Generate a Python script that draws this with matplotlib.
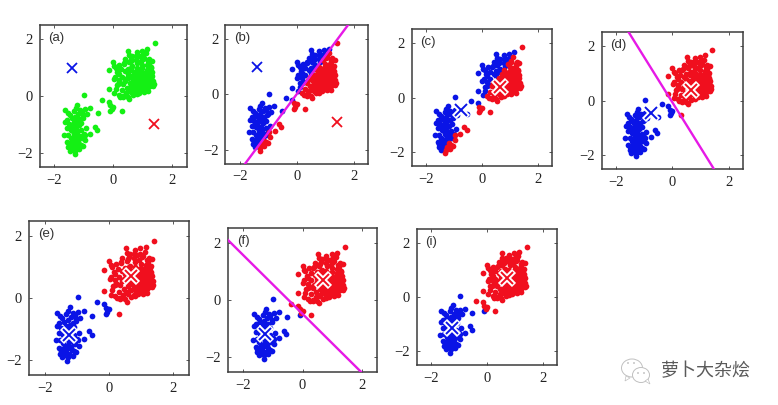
#!/usr/bin/env python3
"""K-means iterations on a two-cluster data set, seven small panels."""

import matplotlib
matplotlib.use('Agg')
import matplotlib.pyplot as plt
from matplotlib.patches import Ellipse, Polygon
import numpy as np

# Points
lower_x = [-0.97, -1.22, -1.27, -0.78, -0.96, -1.33, -1.62, -1.53, -1.07, -0.9, -1.02, -1.12, -1.18, -1.46, -0.52,
           -1.57, -1.63, -1.49, -1.41, -1.33, -1.28, -1.23, -1.14, -1.03, -1.47, -1.44, -1.37, -1.29, -1.17, -1.08,
           -1.26, -1.36, -1.43, -1.56, -1.21, -1.09, -0.99, -0.93, -0.62, -0.54, -0.77, -0.96, -1.67, -1.52, -1.44,
           -1.31, -1.24, -1.13, -1.39, -1.28, -1.19, -1.06, -0.95, -1.56, -1.51, -1.46, -1.34, -1.23, -1.16, -1.52,
           -1.43, -1.36, -1.24, -1.09, -1.02, -1.46, -1.29, -1.14, -1.3, -1.41]
lower_y = [0.02, -0.3, -0.42, -0.43, -0.47, -0.52, -0.5, -0.6, -0.57, -0.64, -0.7, -0.48, -0.62, -0.66, -0.6,
           -0.83, -0.92, -0.97, -0.78, -0.9, -0.73, -0.87, -0.82, -0.76, -1.07, -1.01, -1.13, -0.98, -1.03, -0.96,
           -1.17, -1.22, -1.19, -1.13, -1.28, -1.21, -1.33, -1.14, -1.08, -1.2, -1.33, -1.37, -1.38, -1.36, -1.47,
           -1.33, -1.43, -1.42, -1.57, -1.53, -1.58, -1.48, -1.55, -1.63, -1.72, -1.67, -1.69, -1.62, -1.68, -1.81,
           -1.87, -1.78, -1.83, -1.73, -1.77, -1.92, -1.93, -1.88, -2.05, -1.74]
middle_x = [-0.38, -0.15, -0.1, -0.05, -0.1, 0.0, 0.3]
middle_y = [-0.13, -0.2, -0.33, -0.45, -0.52, -0.37, -0.52]
upper_x = [1.42, 1.15, 0.97, 0.52, 0.55, 0.8, 0.78, 0.62, 1.05, 0.42, 0.0, 0.05, 0.15, -0.15, 0.02,
           -0.15, 0.05, 0.25, 0.35, 0.5, 0.55, 0.2, 0.1, 0.3, 1.35, 1.38, 1.0, 1.34, 1.3, 1.24,
           1.2, 1.03, 0.94, 0.82, 0.65, 1.0, 1.16, 1.26, 0.8, 0.5, 0.42, 0.3, 0.2, 0.4, 0.5,
           0.62, 0.72, 0.84, 0.95, 1.0, 1.14, 1.25, 1.32, 0.5, 0.6, 0.75, 0.83, 0.91, 1.04, 1.13,
           1.21, 1.34, 0.35, 0.58, 0.69, 0.76, 0.88, 0.98, 1.09, 1.16, 1.29, 1.36, 0.46, 0.6, 0.71,
           0.85, 0.93, 1.01, 1.15, 1.23, 1.3, 0.52, 0.65, 0.78, 0.86, 0.99, 1.06, 1.18, 1.26, 0.6,
           0.7, 0.81, 0.94, 1.05, 1.13, 1.2, 0.79, 0.89, 0.96, 1.08, 0.68, 0.8, 0.9, 1.05, 1.2,
           0.45, 0.35, 0.75, 0.85, 1.0, 0.2, 0.25, 0.55, 0.62, 1.12, 0.68, 0.9, 1.28, 0.12, 0.38,
           0.1, 0.22, 0.28, 0.06, 0.36, 0.18, 0.47, 0.6, 1.3, 1.22, 0.88, 0.78, 0.98, 1.12, 0.66]
upper_y = [1.85, 1.65, 1.6, 1.6, 1.45, 1.55, 1.42, 1.32, 1.35, 1.3, 1.18, 1.05, 0.85, 0.9, 0.6,
           0.23, 0.1, -0.02, -0.05, -0.05, -0.12, 0.05, 0.25, 0.2, 0.35, 0.42, 0.2, 1.25, 1.02, 1.3,
           1.22, 1.31, 1.23, 1.17, 1.04, 1.1, 1.08, 0.97, 1.0, 0.96, 0.87, 0.68, 0.57, 0.53, 0.77,
           0.92, 0.86, 0.91, 0.94, 0.98, 0.93, 0.88, 0.83, 0.62, 0.71, 0.77, 0.76, 0.83, 0.8, 0.78,
           0.76, 0.7, 0.41, 0.47, 0.57, 0.6, 0.66, 0.72, 0.68, 0.71, 0.64, 0.53, 0.28, 0.37, 0.46,
           0.5, 0.57, 0.6, 0.55, 0.5, 0.47, 0.18, 0.27, 0.33, 0.44, 0.43, 0.5, 0.43, 0.36, 0.13,
           0.24, 0.26, 0.31, 0.37, 0.33, 0.3, 0.1, 0.2, 0.24, 0.2, 0.03, 0.06, 0.11, 0.14, 0.17,
           0.1, 0.0, 0.65, 0.75, 0.62, 0.78, 0.45, 1.18, 1.0, 0.82, 0.62, 0.5, 0.98, 0.4, 1.15,
           1.0, 1.1, 0.95, 0.68, 1.12, 0.42, 0.62, 1.25, 0.78, 1.15, 1.4, 1.28, 1.42, 1.5, 1.42]

points_x = np.array(lower_x + middle_x + upper_x)
points_y = np.array(lower_y + middle_y + upper_y)

panel_names = ['(a)', '(b)', '(c)', '(d)', '(e)', '(f)', '(i)']
ticks = [-2, 0, 2]

# Centres drawn in each panel (blue, red)
blue_centres = [(-1.4, 1.0), (-1.4, 1.0), (-0.75, -0.45), (-0.75, -0.45), (-1.25, -1.2), (-1.25, -1.2), (-1.25, -1.15)]
red_centres = [(1.4, -1.0), (1.4, -1.0), (0.65, 0.4), (0.65, 0.4), (0.7, 0.7), (0.7, 0.7), (0.7, 0.7)]

# Which panel's centres set the point colours, None = all green
assign_from = [None, 1, 1, 3, 3, 5, 5]

# Magenta boundaries, panel -> x and y of the two ends
boundaries = {
    1: ([-1.8, 1.8], [-2.5, 2.5]),
    3: ([-1.55, 1.47], [2.5, -2.5]),
    5: ([-2.5, 1.95], [2.1, -2.5]),
}

# Axes boxes in pixels: left, right, top, bottom
boxes = [(39.5, 186.5, 25, 167), (225.3, 368, 25, 163.5), (411.7, 552, 29.3, 165.7),
         (602, 742.7, 32.3, 168.7), (29, 189, 220.7, 375), (227.7, 377.3, 228.3, 371.7),
         (416.7, 557.3, 229, 365)]

W, H = 778, 405
BLUE = '#0a14e6'
RED = '#f00f1e'
GREEN = '#14f014'
MAGENTA = '#e619e6'
INK = '#3c3c3c'
DOT = 17

fig = plt.figure(figsize=(W / 100, H / 100), dpi=100, facecolor='white')

for i, name in enumerate(panel_names):
    left, right, top, bottom = boxes[i]
    ax = fig.add_axes([left / W, 1 - bottom / H, (right - left) / W, (bottom - top) / H])
    ax.set_xlim(-2.5, 2.5)
    ax.set_ylim(-2.5, 2.5)

    # Colour the points by the nearest centre of the step before
    if assign_from[i] is None:
        ax.scatter(points_x, points_y, s=DOT, color=GREEN, linewidths=0, zorder=2)
    else:
        bc = blue_centres[assign_from[i]]
        rc = red_centres[assign_from[i]]
        to_blue = (points_x - bc[0]) ** 2 + (points_y - bc[1]) ** 2
        to_red = (points_x - rc[0]) ** 2 + (points_y - rc[1]) ** 2
        is_red = to_red < to_blue
        ax.scatter(points_x[~is_red], points_y[~is_red], s=DOT, color=BLUE, linewidths=0, zorder=2)
        ax.scatter(points_x[is_red], points_y[is_red], s=DOT, color=RED, linewidths=0, zorder=2)

    # Centres, white halo once they sit on the points
    for centre, colour in ((blue_centres[i], BLUE), (red_centres[i], RED)):
        if i >= 2:
            ax.plot(centre[0], centre[1], 'x', ms=10, mew=4.2, color='white', zorder=3)
            ax.plot(centre[0], centre[1], 'x', ms=9, mew=1.4, color=colour, zorder=4)
        else:
            ax.plot(centre[0], centre[1], 'x', ms=7.5, mew=1.3, color=colour, zorder=4)

    if i in boundaries:
        ax.plot(boundaries[i][0], boundaries[i][1], color=MAGENTA, lw=1.7, zorder=5)

    ax.set_xticks(ticks)
    ax.set_yticks(ticks)
    ax.set_xticklabels(['\u22122', '0', '2'], family='Liberation Serif', fontsize=10.5, color='#222222')
    ax.set_yticklabels(['\u22122', '0', '2'], family='Liberation Serif', fontsize=10.5, color='#222222')
    ax.tick_params(direction='in', length=2, width=0.6, color=INK, top=True, right=True, pad=5)
    for spine in ax.spines.values():
        spine.set_linewidth(1.1)
        spine.set_color(INK)

    ax.text(0.06, 0.95, name, transform=ax.transAxes, ha='left', va='top',
            fontsize=9.5, family='Liberation Sans', color='#333333')

# Watermark, drawn in pixel coordinates
wm = fig.add_axes([0, 0, 1, 1], facecolor='none')
wm.set_xlim(0, W)
wm.set_ylim(H, 0)
wm.axis('off')
for cx, cy, w, h in ((632, 368, 21, 18), (641, 375, 17, 15)):
    wm.add_patch(Ellipse((cx, cy), w, h, facecolor='white', edgecolor='#c0c0c0', lw=0.7))
wm.add_patch(Polygon([(626, 376), (625, 381), (630, 378)], facecolor='white', edgecolor='#c0c0c0', lw=0.5))
wm.add_patch(Polygon([(645, 381), (650, 384), (648, 379)], facecolor='white', edgecolor='#c0c0c0', lw=0.5))
for cx, cy in ((628, 363), (634, 363), (638, 373), (644, 373)):
    wm.add_patch(Ellipse((cx, cy), 1.6, 1.6, facecolor='#a8a8a8', edgecolor='none'))
wm.text(706, 371, '萝卜大杂烩', ha='center', va='center', fontsize=13,
        family=['Noto Sans CJK SC', 'DejaVu Sans'], color='#5a5a5a')

fig.savefig('out.png', dpi=100, facecolor='white')
